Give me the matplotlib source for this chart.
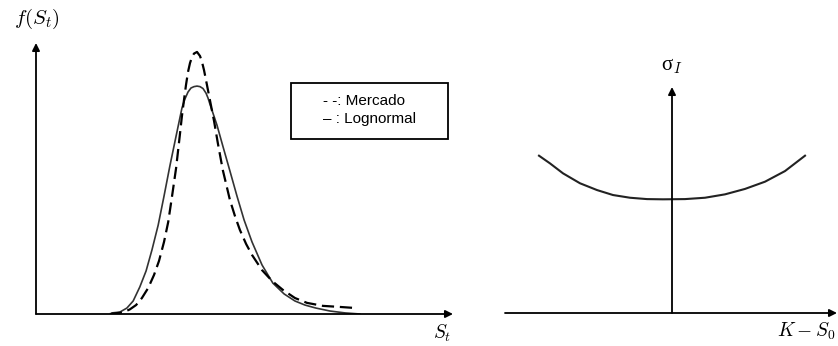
import matplotlib
matplotlib.use('Agg')
import matplotlib.pyplot as plt
from matplotlib.patches import Rectangle

plt.rcParams['mathtext.fontset'] = 'cm'

# densidade de S_t (eixo x em unidades arbitrárias, 0..100)
s_lognormal = [18.2, 20.1, 21.8, 23.3, 24.9, 26.4, 27.8, 29.3, 30.7, 32.1, 33.6, 35.0,
               35.7, 36.45, 37.17, 37.89, 38.61, 39.33, 40.05, 40.77, 41.25, 41.7, 43.4,
               44.8, 46.5, 48.2, 49.9, 51.8, 54.2, 56.8, 59.5, 62.1, 64.5, 67.1, 70.5,
               74.1, 77.7]
f_lognormal = [0.004, 0.007, 0.022, 0.048, 0.100, 0.159, 0.236, 0.328, 0.435, 0.546, 0.657, 0.760,
               0.793, 0.819, 0.834, 0.839, 0.841, 0.839, 0.832, 0.815, 0.797, 0.775, 0.697,
               0.620, 0.528, 0.435, 0.347, 0.266, 0.181, 0.114, 0.074, 0.048, 0.033, 0.022, 0.011,
               0.004, 0.0]

s_mercado = [17.7, 20.9, 22.5, 24.0, 25.4, 26.9, 28.3, 29.5, 30.7, 31.7, 32.6, 33.6, 34.5,
             34.97, 35.49, 35.97, 36.45, 36.93, 37.41, 37.89, 38.61, 39.33, 39.81, 40.29,
             41.0, 41.7, 42.7, 43.6, 44.8, 46.5, 47.7, 48.9, 50.4, 51.8, 54.2, 56.6, 59.2,
             62.1, 65.0, 68.8, 72.9, 76.7]
f_mercado = [0.0, 0.006, 0.017, 0.033, 0.059, 0.096, 0.144, 0.196, 0.266, 0.339, 0.432, 0.539, 0.661,
             0.727, 0.790, 0.845, 0.893, 0.926, 0.948, 0.961, 0.967, 0.952, 0.930, 0.900,
             0.845, 0.790, 0.712, 0.631, 0.531, 0.421, 0.362, 0.310, 0.258, 0.218, 0.162, 0.122, 0.089,
             0.059, 0.041, 0.030, 0.026, 0.022]

# smile de volatilidade implícita contra K - S0
k_menos_s0 = [-1.33, -1.22, -1.09, -0.92, -0.75, -0.59, -0.42, -0.25, -0.09,
              0.13, 0.33, 0.53, 0.73, 0.93, 1.13, 1.33]
vol_impl = [0.696, 0.662, 0.618, 0.574, 0.544, 0.522, 0.510, 0.504, 0.503,
            0.504, 0.510, 0.525, 0.549, 0.581, 0.628, 0.696]

legenda = ['- -: Mercado', '– : Lognormal']

fig = plt.figure(figsize=(8.38, 3.46), dpi=100)
fig.patch.set_facecolor('white')

seta = dict(arrowstyle='-|>', color='black', lw=1.3, mutation_scale=11,
            shrinkA=0, shrinkB=0)


def eixos_com_setas(ax, x0):
    for sp in ax.spines.values():
        sp.set_visible(False)
    ax.set_xticks([])
    ax.set_yticks([])
    ax.patch.set_alpha(0)
    ax.annotate('', xy=(1, 0), xytext=(0, 0), xycoords='axes fraction',
                textcoords='axes fraction', arrowprops=seta)
    ax.annotate('', xy=(x0, 1), xytext=(x0, 0), xycoords='axes fraction',
                textcoords='axes fraction', arrowprops=seta)


# painel esquerdo: densidades
ax1 = fig.add_axes([36 / 838, 32 / 346, 417 / 838, 271 / 346])
ax1.set_xlim(0, 100)
ax1.set_ylim(0, 1)
eixos_com_setas(ax1, 0)
ax1.plot(s_lognormal, f_lognormal, color='#333333', lw=1.2,
         solid_joinstyle='round', solid_capstyle='round')
ax1.plot(s_mercado, f_mercado, color='black', lw=1.6, dashes=(5.5, 2.6),
         dash_joinstyle='round')

ax1.add_patch(Rectangle((0.611, 0.646), 0.377, 0.206, transform=ax1.transAxes,
                        fill=False, edgecolor='black', lw=1.3))
ax1.text(0.688, 0.786, legenda[0], transform=ax1.transAxes, ha='left', va='center',
         fontsize=11, family='Liberation Sans')
ax1.text(0.688, 0.718, legenda[1], transform=ax1.transAxes, ha='left', va='center',
         fontsize=11, family='Liberation Sans')

# painel direito: smile
ax2 = fig.add_axes([505 / 838, 33 / 346, 332 / 838, 226 / 346])
ax2.set_xlim(-1.67, 1.65)
ax2.set_ylim(0, 1)
eixos_com_setas(ax2, 1.67 / 3.32)
ax2.plot(k_menos_s0, vol_impl, color='#222222', lw=1.5, solid_joinstyle='round')

# rótulos dos eixos
fig.text(37 / 838, 1 - 19 / 346, r'$f(S_t)$', ha='center', va='center', fontsize=15)
fig.text(442 / 838, 1 - 333 / 346, r'$S_t$', ha='center', va='center', fontsize=14)
fig.text(672 / 838, 1 - 66 / 346, r'σ$_I$', ha='center', va='center', fontsize=15,
         family='Liberation Serif')
fig.text(806 / 838, 1 - 331 / 346, r'$K-S_0$', ha='center', va='center', fontsize=14)

fig.savefig('out.png', dpi=100)
